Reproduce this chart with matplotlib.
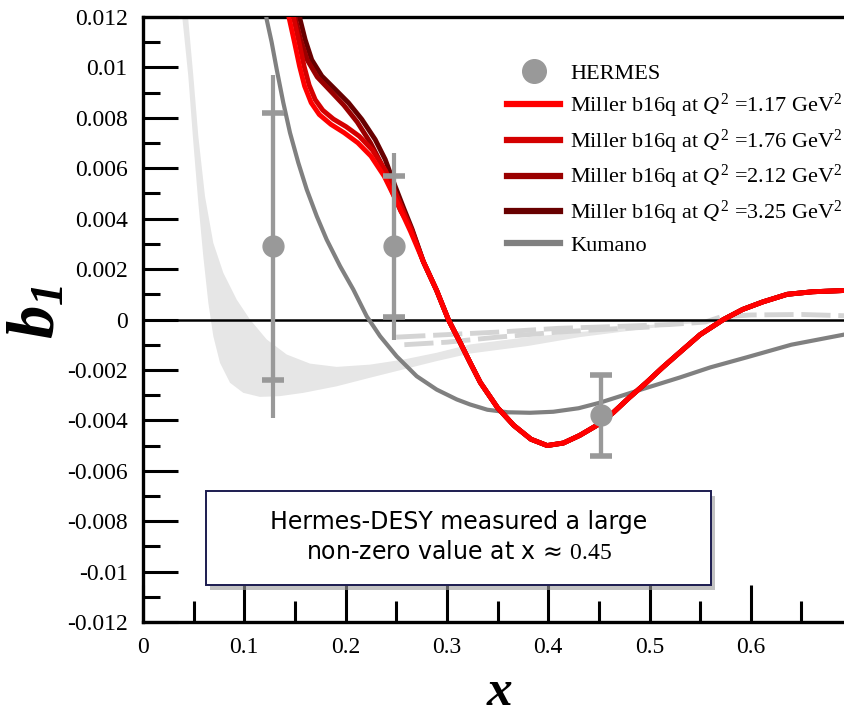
import numpy as np
import matplotlib
matplotlib.use("Agg")
import matplotlib.pyplot as plt
from matplotlib.lines import Line2D
from matplotlib.patches import FancyBboxPatch

plt.rcParams['font.family'] = ['Liberation Serif', 'DejaVu Serif']
plt.rcParams['mathtext.fontset'] = 'custom'
plt.rcParams['mathtext.rm'] = 'Liberation Serif'
plt.rcParams['mathtext.it'] = 'Liberation Serif:italic'
plt.rcParams['mathtext.bf'] = 'Liberation Serif:bold:italic'

# ---------------- data ----------------
hermes_x = [0.128, 0.248, 0.452]
hermes_y = [0.0029, 0.0029, -0.0038]
hermes_stat = [0.0053, 0.0028, 0.0016]
hermes_total = [0.0068, 0.0037, 0.0016]

miller_q2 = ['1.17', '1.76', '2.12', '3.25']
miller_colors = ['#ff0000', '#d40000', '#9a0000', '#680000']

miller_tail_x = [0.2767, 0.2899, 0.3014, 0.3129, 0.3228, 0.333, 0.350, 0.366, 0.383, 0.399, 0.415,
                 0.431, 0.448, 0.464, 0.480, 0.497, 0.513, 0.530, 0.550, 0.573, 0.592,
                 0.612, 0.636, 0.661, 0.692]
miller_tail_y = [0.0023, 0.00115, 0.0000, -0.0009, -0.0017, -0.0025, -0.0035, -0.0042, -0.00475, -0.0050, -0.0049,
                 -0.0046, -0.0042, -0.0037, -0.0031, -0.0025, -0.0019, -0.0013, -0.0006, 0.0000, 0.0004,
                 0.0007, 0.0010, 0.0011, 0.00115]

miller_117_x = [0.1420, 0.1440, 0.1495, 0.1545, 0.1595, 0.1660, 0.1740, 0.1855, 0.1985, 0.2120, 0.2250,
                0.2380, 0.2510, 0.2640]
miller_117_y = [0.0127, 0.0120, 0.0110, 0.01005, 0.00926, 0.0086, 0.00813, 0.00774, 0.00741, 0.00701, 0.00648,
                0.00569, 0.00463, 0.0035]
miller_176_x = [0.1465, 0.1485, 0.1540, 0.1590, 0.1640, 0.1700, 0.1775, 0.1880, 0.2005, 0.2135, 0.2265,
                0.2395, 0.2520, 0.2645]
miller_176_y = [0.0127, 0.0120, 0.0110, 0.01005, 0.00930, 0.00872, 0.00830, 0.00795, 0.00765, 0.00727, 0.00672,
                0.00590, 0.00478, 0.0036]
miller_212_x = [0.1485, 0.1506, 0.1556, 0.1621, 0.1720, 0.1852, 0.1983, 0.2115, 0.2247, 0.2350, 0.2452,
                0.2545, 0.2650]
miller_212_y = [0.0127, 0.0119, 0.0111, 0.0103, 0.00962, 0.00906, 0.00850, 0.00783, 0.00700, 0.00620, 0.00515,
                0.0043, 0.0036]
miller_325_x = [0.1530, 0.1551, 0.1601, 0.1666, 0.1765, 0.1897, 0.2028, 0.2160, 0.2292, 0.2391, 0.2489,
                0.2575, 0.2655]
miller_325_y = [0.0127, 0.0119, 0.0111, 0.0103, 0.00966, 0.00913, 0.0086, 0.00794, 0.00714, 0.00635, 0.00529,
                0.0044, 0.0036]

kumano_x = [0.1200, 0.1221, 0.1270, 0.1320, 0.1385, 0.1451, 0.1533, 0.1616, 0.1715, 0.1813, 0.1945,
            0.2076, 0.2208, 0.2340, 0.2504, 0.2702, 0.2899, 0.3097, 0.3228, 0.340, 0.360, 0.382,
            0.405, 0.430, 0.451, 0.490, 0.530, 0.560, 0.596, 0.640, 0.692]
kumano_y = [0.0125, 0.0119, 0.0110, 0.00992, 0.0086, 0.00741, 0.00622, 0.00516, 0.0041, 0.00317, 0.00212,
            0.00119, 0.00013, -0.00066, -0.00146, -0.00225, -0.00278, -0.00317, -0.00337, -0.00358, -0.00368, -0.0037,
            -0.00366, -0.00352, -0.0033, -0.0028, -0.0023, -0.0019, -0.0015, -0.0010, -0.0006]

band_lower_x = [0.0360, 0.0390, 0.0447, 0.0497, 0.0546, 0.0595, 0.0645, 0.0694, 0.0760, 0.0859, 0.0990,
                0.1155, 0.1352, 0.1583, 0.1912, 0.2241, 0.2570, 0.2899, 0.3228, 0.380, 0.431, 0.480,
                0.530, 0.560]
band_lower_y = [0.0135, 0.0119, 0.00966, 0.00701, 0.00463, 0.00251, 0.00066, -0.00066, -0.00172, -0.00251, -0.00291,
                -0.00307, -0.00304, -0.00291, -0.00265, -0.00231, -0.00198, -0.00165, -0.00135, -0.00105, -0.0007, -0.00045,
                -0.0002, -0.0001]
band_upper_x = [0.0415, 0.0447, 0.0497, 0.0546, 0.0612, 0.0694, 0.0793, 0.0925, 0.1056, 0.1221, 0.1419,
                0.1649, 0.1912, 0.2241, 0.2570, 0.2899, 0.3228, 0.380, 0.431, 0.480, 0.530, 0.560]
band_upper_y = [0.0135, 0.0119, 0.00966, 0.00728, 0.00489, 0.00304, 0.00185, 0.00079, 0.0000, -0.00079, -0.00139,
                -0.00175, -0.00188, -0.00179, -0.00159, -0.00132, -0.00099, -0.0007, -0.0005, -0.0003, -0.0001, -0.00005]

dash_a_x = [0.250, 0.300, 0.350, 0.410, 0.450, 0.520, 0.555, 0.570, 0.600, 0.650, 0.692]
dash_a_y = [-0.0007, -0.0006, -0.0005, -0.00035, -0.0003, -0.0002, -0.0001, 0.0001, 0.00018, 0.0002, 0.00015]
dash_b_x = [0.258, 0.300, 0.350, 0.410, 0.450, 0.500]
dash_b_y = [-0.0010, -0.0009, -0.0007, -0.0005, -0.0004, -0.0003]

xticks = [0, 0.1, 0.2, 0.3, 0.4, 0.5, 0.6]
xticklabels = ['0', '0.1', '0.2', '0.3', '0.4', '0.5', '0.6']
yticks = [0.012, 0.01, 0.008, 0.006, 0.004, 0.002, 0, -0.002, -0.004, -0.006, -0.008, -0.01, -0.012]
yticklabels = ['0.012', '0.01', '0.008', '0.006', '0.004', '0.002', '0', '-0.002', '-0.004', '-0.006',
               '-0.008', '-0.01', '-0.012']

note_text = "Hermes-DESY measured a large\nnon-zero value at x \u2248 $0.45$"

# ---------------- figure ----------------
W, H = 844, 717
fig = plt.figure(figsize=(W / 100, H / 100), dpi=100)
ax = fig.add_axes([143 / W, 1 - 622 / H, 1 - 143 / W, (622 - 17) / H])
ax.set_xlim(0, 0.692)
ax.set_ylim(-0.012, 0.012)

# band
ax.fill(np.concatenate([band_lower_x, band_upper_x[::-1]]),
        np.concatenate([band_lower_y, band_upper_y[::-1]]),
        color='#e6e6e6', lw=0, zorder=1)

# dashed light gray lines
ax.plot(dash_a_x, dash_a_y, color='#d4d4d4', lw=3.5, dashes=(6, 1.6), zorder=2)
ax.plot(dash_b_x, dash_b_y, color='#d4d4d4', lw=3.5, dashes=(6, 1.6), zorder=2)

ax.axhline(0, color='black', lw=1.8, zorder=2.5)

# Kumano
ax.plot(kumano_x, kumano_y, color='#808080', lw=3.0, zorder=3, solid_joinstyle='round')

# Miller curves
heads = [(miller_117_x, miller_117_y), (miller_176_x, miller_176_y),
         (miller_212_x, miller_212_y), (miller_325_x, miller_325_y)]
for i in [3, 2, 1, 0]:
    hx, hy = heads[i]
    ax.plot(list(hx) + miller_tail_x, list(hy) + miller_tail_y,
            color=miller_colors[i], lw=3.5, zorder=4 + (3 - i) * 0.1,
            solid_capstyle='round', solid_joinstyle='round')

# HERMES
ax.errorbar(hermes_x, hermes_y, yerr=hermes_total, fmt='none', ecolor='#999999',
            elinewidth=3, capsize=0, zorder=6)
ax.errorbar(hermes_x, hermes_y, yerr=hermes_stat, fmt='o', color='#999999', ms=15,
            elinewidth=3, capsize=8, capthick=4, zorder=6)

# axes styling
for s in ['left', 'bottom', 'top']:
    ax.spines[s].set_linewidth(2.4)
    ax.spines[s].set_color('black')
ax.spines['right'].set_visible(False)
ax.set_xticks(xticks)
ax.set_xticklabels(xticklabels)
ax.set_yticks(yticks)
ax.set_yticklabels(yticklabels)
ax.set_xticks(np.arange(0.05, 0.7, 0.1), minor=True)
ax.set_yticks(np.arange(-0.011, 0.012, 0.002), minor=True)
ax.tick_params(axis='both', which='both', direction='in', top=False, right=False,
               labelsize=17, width=2.2, colors='black')
ax.tick_params(axis='y', which='major', length=25, pad=11)
ax.tick_params(axis='y', which='minor', length=12.5)
ax.tick_params(axis='x', which='major', length=27, pad=11)
ax.tick_params(axis='x', which='minor', length=15)

# axis labels
fig.text(500 / W, 1 / H, r'$\mathbf{x}$', fontsize=37, ha='center', va='bottom')
fig.text(38 / W, 1 - 312 / H, r'$\mathbf{b}_{\mathbf{1}}$', fontsize=48, rotation=90,
         ha='center', va='center')

# legend
handles = [Line2D([], [], marker='o', color='#999999', ls='none', ms=17)]
labels = ['HERMES']
for q, c in zip(miller_q2, miller_colors):
    handles.append(Line2D([], [], color=c, lw=4.5))
    labels.append(r'Miller b16q at $Q^2$ =' + q + r' GeV$^2$')
handles.append(Line2D([], [], color='#808080', lw=4.5))
labels.append('Kumano')
leg = fig.legend(handles, labels, loc='upper left', bbox_to_anchor=(507 / W, 1 - 63 / H),
                 frameon=False, fontsize=16, handlelength=2.4, handletextpad=0.45,
                 labelspacing=0.35, borderpad=0, borderaxespad=0)

# annotation box with shadow
bx0, by0, bx1, by1 = 206 / W, 1 - 585 / H, 711 / W, 1 - 491 / H
shadow = FancyBboxPatch((bx0 + 4 / W, by0 - 5 / H), bx1 - bx0, by1 - by0,
                        boxstyle='square,pad=0', transform=fig.transFigure,
                        facecolor='#9a9a9a', edgecolor='none', alpha=0.6, zorder=9)
box = FancyBboxPatch((bx0, by0), bx1 - bx0, by1 - by0, boxstyle='square,pad=0',
                     transform=fig.transFigure, facecolor='white', edgecolor='#1c1c50',
                     lw=1.4, zorder=10)
fig.patches.extend([shadow, box])
fig.text((bx0 + bx1) / 2, (by0 + by1) / 2 + 1 / H, note_text, fontsize=17, ha='center', va='center',
         family=['DejaVu Sans'], linespacing=1.3, zorder=11)

fig.savefig('out.png', dpi=100)
